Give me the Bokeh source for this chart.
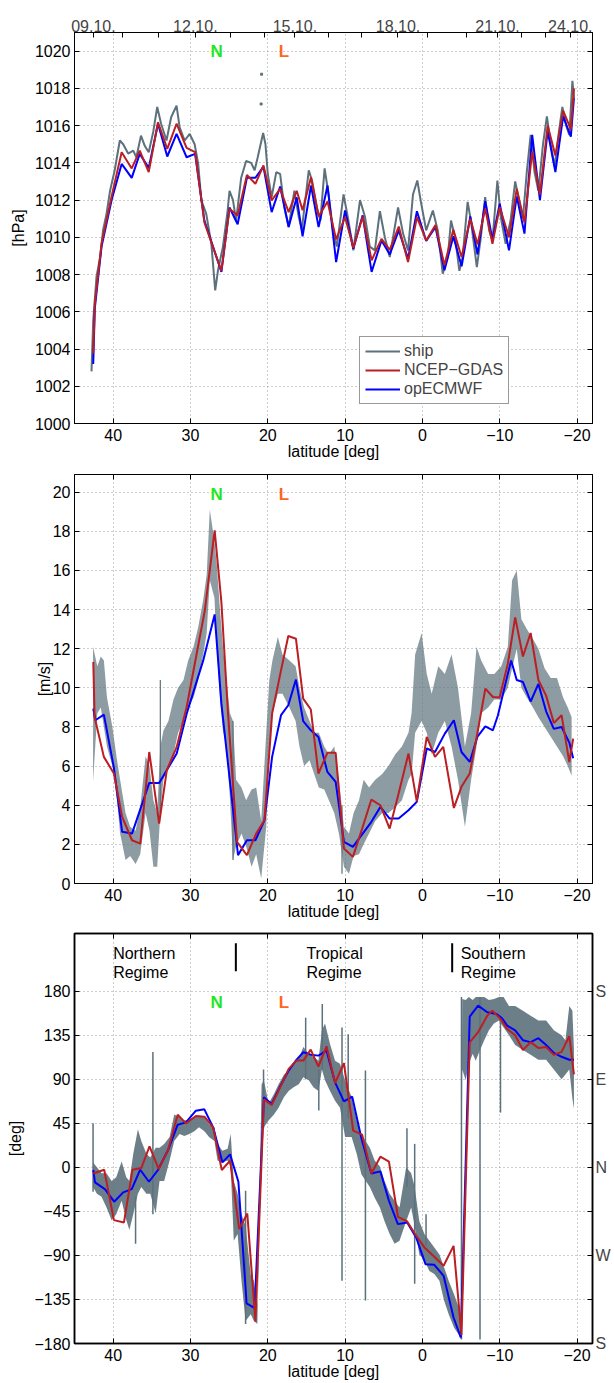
from bokeh.plotting import figure
from bokeh.models import (Range1d, LinearAxis, FixedTicker, Legend, LegendItem,
                          CustomJSTickFormatter)
from bokeh.layouts import column
from bokeh.core.properties import value
from bokeh.embed import file_html
from bokeh.resources import INLINE

FONT = "Liberation Sans"
GRAY = "#5c717b"
RED = "#bb1e23"
BLUE = "#0000ff"

# ---------------- top date axis (ship track: day -> latitude) ----------------
day_lat = [42.55, 38.82, 34.09, 29.37, 24.86, 20.48, 16.49, 12.18, 7.89, 3.16,
           -0.70, -5.64, -9.72, -12.85, -15.95, -19.12]
date_lat = [42.55, 29.37, 16.49, 3.16, -9.72, -19.12]
date_label = ["09.10.", "12.10.", "15.10.", "18.10.", "21.10.", "24.10."]

# ---------------- panel 1: pressure [hPa] ----------------
p_mod_lat = [42.58, 42.37, 41.5, 40.2, 38.9, 37.6, 36.56, 35.4, 34.2, 33.0, 31.8,
             30.5, 29.4, 28.2, 26.0, 24.95, 23.9, 22.7, 21.6, 20.56, 19.5, 18.4,
             17.3, 16.26, 15.5, 14.41, 13.43, 12.27, 11.16, 10.0, 8.93, 7.73,
             6.57, 5.29, 4.22, 3.06, 1.86, 0.71, -0.49, -1.69, -2.85, -4.0,
             -5.07, -6.19, -7.13, -8.12, -9.06, -10.0, -11.2, -12.2, -13.2,
             -14.2, -15.2, -16.2, -17.2, -18.2, -19.2, -19.6]
p_ncep = [1003.76, 1006.44, 1009.65, 1012.2, 1014.57, 1013.7, 1014.66, 1013.5,
          1016.18, 1014.75, 1016.1, 1014.8, 1014.57, 1010.8, 1008.2, 1011.53,
          1011.17, 1013.35, 1012.87, 1013.86, 1011.98, 1012.6, 1011.35, 1012.5,
          1011.45, 1013.23, 1011.12, 1011.92, 1009.89, 1011.08, 1009.44, 1011.12,
          1008.76, 1009.92, 1009.33, 1010.58, 1008.67, 1011.08, 1009.83, 1010.66,
          1008.5, 1010.4, 1008.94, 1011.0, 1009.62, 1011.53, 1009.65, 1011.62,
          1010.0, 1012.6, 1010.8, 1014.6, 1012.3, 1016.0, 1014.4, 1016.8,
          1015.8, 1018.0]
p_ecmwf = [1003.2, 1006.2, 1009.5, 1012.0, 1013.94, 1013.19, 1014.48, 1013.73,
           1016.1, 1014.34, 1015.55, 1014.3, 1014.48, 1010.9, 1008.14, 1011.6,
           1010.7, 1013.2, 1013.2, 1013.8, 1011.35, 1012.73, 1010.55, 1012.15,
           1010.05, 1012.78, 1010.55, 1012.78, 1008.67, 1011.44, 1009.39, 1011.18,
           1008.14, 1009.83, 1009.08, 1010.37, 1008.85, 1011.4, 1009.8, 1010.55,
           1008.23, 1010.05, 1008.44, 1011.12, 1009.08, 1011.94, 1009.87, 1011.8,
           1009.3, 1012.2, 1010.2, 1015.5, 1012.0, 1015.7, 1013.5, 1016.5,
           1015.4, 1017.5]
p_ship_lat = [42.8, 42.58, 42.15, 41.7, 41.3, 40.86, 40.4, 39.8, 39.14, 38.7,
              38.06, 37.4, 37.0, 36.4, 35.9, 35.4, 34.8, 34.3, 33.8, 33.1, 32.5,
              31.8, 31.4, 30.75, 30.1, 29.46, 29.0, 28.6, 27.96, 27.3, 26.8,
              26.45, 25.8, 25.2, 24.95, 24.5, 24.1, 23.44, 22.8, 22.15, 21.7,
              21.3, 20.6, 20.3, 20.0, 19.5, 18.9, 18.4, 17.86, 17.3, 16.56, 16.0,
              15.6, 14.7, 14.28, 13.64, 13.2, 12.65, 12.14, 11.5, 11.07, 10.2,
              9.57, 8.93, 8.07, 7.43, 6.8, 6.15, 5.5, 4.86, 4.22, 3.15, 2.5,
              1.86, 1.22, 0.66, 0.15, -0.49, -1.35, -1.99, -2.63, -3.28, -3.7,
              -4.22, -4.78, -5.2, -5.85, -6.27, -7.04, -7.56, -8.12, -8.63,
              -9.06, -9.7, -10.13, -10.77, -11.4, -12.0, -12.5, -13.0, -13.5,
              -14.0, -14.5, -15.0, -15.6, -16.1, -16.6, -17.1, -17.6, -18.1,
              -18.6, -19.0, -19.4, -19.6]
p_ship = [1002.8, 1005.5, 1007.9, 1008.9, 1010.4, 1011.26, 1012.5, 1013.6,
          1015.2, 1015.0, 1014.5, 1014.66, 1014.3, 1015.46, 1014.9, 1014.57,
          1015.7, 1017.0, 1016.1, 1015.2, 1016.45, 1017.07, 1015.9, 1015.2,
          1015.55, 1015.0, 1013.95, 1012.0, 1011.26, 1009.65, 1007.15, 1008.2,
          1009.5, 1011.4, 1012.5, 1012.0, 1010.9, 1013.2, 1014.1, 1014.0,
          1013.6, 1014.3, 1015.6, 1015.0, 1013.4, 1012.16, 1013.5, 1013.4,
          1011.6, 1010.55, 1012.5, 1011.1, 1010.4, 1013.6, 1013.05, 1011.6,
          1010.9, 1013.7, 1012.3, 1010.2, 1009.5, 1012.3, 1010.9, 1009.3,
          1012.0, 1011.1, 1009.5, 1009.3, 1011.4, 1010.0, 1008.94, 1011.6,
          1010.2, 1009.3, 1012.3, 1013.05, 1011.8, 1010.37, 1011.44, 1010.37,
          1008.05, 1008.94, 1010.9, 1010.0, 1008.2, 1008.94, 1011.9, 1010.9,
          1008.4, 1010.0, 1012.16, 1010.37, 1009.83, 1013.05, 1011.1, 1009.65,
          1010.9, 1013.0, 1012.0, 1011.0, 1013.5, 1015.5, 1013.5, 1012.5,
          1015.0, 1016.5, 1015.0, 1013.8, 1015.5, 1017.0, 1016.0, 1015.5,
          1018.4, 1017.5]
p_stray_lat = [20.86, 20.8]
p_stray = [1017.16, 1018.76]

# ---------------- panel 2: wind speed [m/s] ----------------
w_ncep_lat = [42.57, 42.4, 41.2, 39.9, 38.84, 37.56, 36.49, 35.33, 34.05, 33.06,
              31.78, 30.49, 29.2, 28.14, 26.87, 26.0, 25.14, 23.98, 22.7, 21.5,
              20.43, 19.44, 18.29, 17.35, 16.36, 15.42, 14.43, 13.45, 12.29,
              11.22, 10.15, 8.99, 7.79, 6.6, 5.44, 4.24, 3.08, 1.8, 0.73, -0.56,
              -1.63, -2.7, -4.07, -5.05, -6.12, -7.1, -8.14, -9.12, -9.98,
              -11.05, -12.0, -13.0, -14.0, -15.0, -16.0, -17.0, -18.0, -19.0,
              -19.5]
w_ncep = [11.32, 8.51, 6.47, 5.62, 3.4, 2.21, 2.04, 6.72, 3.06, 5.79, 6.98, 9.02,
          11.74, 13.96, 18.04, 14.38, 8.68, 2.13, 1.45, 2.55, 3.23, 8.68, 10.89,
          12.65, 12.51, 9.45, 8.89, 5.62, 6.68, 6.68, 1.79, 1.36, 2.81, 4.29,
          4.0, 2.81, 4.6, 6.64, 4.2, 7.49, 6.47, 6.98, 3.86, 4.94, 5.62, 7.66,
          9.96, 9.53, 9.5, 11.23, 13.6, 11.6, 12.8, 10.4, 9.6, 8.2, 8.6, 6.2,
          7.4]
w_ecmwf_lat = [42.57, 42.3, 41.2, 39.9, 38.84, 37.56, 35.33, 34.05, 31.78, 30.49,
               28.35, 26.87, 26.0, 23.85, 22.7, 21.6, 20.43, 19.44, 18.29, 17.35,
               16.36, 15.42, 14.43, 13.45, 12.29, 11.22, 10.15, 8.99, 6.6, 5.44,
               4.24, 3.08, 1.8, 0.73, -0.56, -1.63, -2.9, -4.07, -5.05, -6.12,
               -7.1, -8.14, -9.12, -9.77, -10.84, -11.48, -12.2, -13.0, -14.0,
               -15.0, -16.0, -17.0, -18.0, -19.0, -19.5]
w_ecmwf = [8.94, 8.34, 8.63, 5.9, 2.64, 2.55, 5.14, 5.14, 6.64, 8.68, 11.4, 13.75,
           9.19, 1.45, 2.21, 2.21, 3.23, 6.47, 8.6, 9.11, 10.42, 8.3, 7.83, 7.49,
           5.7, 5.19, 2.13, 1.87, 3.15, 3.91, 3.32, 3.32, 3.74, 4.17, 6.9, 6.72,
           7.66, 8.34, 6.72, 6.21, 7.49, 8.03, 7.83, 8.6, 10.38, 11.4, 10.4,
           10.3, 9.3, 10.2, 8.8, 7.9, 8.0, 7.2, 6.4]
# ship wind: envelope of the scattered 10-min samples
w_ship_lat = [42.6, 42.05, 41.6, 41.2, 40.8, 40.1, 39.5, 39.1, 38.4, 37.8, 37.1,
              36.5, 35.8, 35.3, 34.8, 34.3, 33.9, 33.5, 32.85, 32.2, 31.6, 30.9,
              30.3, 29.6, 29.0, 28.35, 27.9, 27.5, 26.9, 26.6, 26.2, 25.8, 25.35,
              24.9, 24.5, 24.1, 23.4, 22.8, 22.1, 21.5, 20.85, 20.2, 19.8, 19.4,
              18.7, 18.1, 17.2, 16.4, 15.9, 15.3, 14.6, 14.0, 13.4, 12.7, 12.1,
              11.4, 10.8, 10.15, 9.5, 8.9, 8.2, 7.6, 6.9, 6.1, 5.2, 4.4, 3.5,
              2.65, 1.8, 1.4, 0.94, 0.1, -0.56, -1.2, -2.05, -2.9, -3.77, -4.6,
              -5.5, -6.3, -7.0, -7.6, -8.5, -9.3, -10.2, -11.05, -11.6, -12.2,
              -12.8, -13.5, -14.3, -15.0, -15.8, -16.6, -17.4, -18.2, -18.8,
              -19.3]
w_ship_lo = [5.2, 8.7, 9.0, 8.0, 7.0, 6.0, 4.25, 2.55, 1.2, 1.4, 1.0, 1.5, 3.6,
             2.7, 0.85, 0.85, 3.6, 5.3, 6.0, 6.6, 7.7, 8.3, 9.0, 9.5, 10.4, 11.7,
             12.8, 15.5, 14.6, 12.1, 9.5, 7.8, 7.0, 4.4, 1.2, 1.9, 2.55, 1.9,
             0.85, 1.5, 0.25, 2.9, 7.0, 8.7, 9.7, 9.7, 9.0, 8.3, 7.0, 6.0, 6.3,
             5.6, 4.9, 4.8, 4.25, 3.6, 2.55, 0.85, 0.5, 1.4, 1.5, 2.0, 2.55, 3.2,
             3.6, 3.6, 3.9, 4.25, 5.3, 5.6, 7.7, 8.3, 7.7, 6.6, 7.7, 8.3, 7.0,
             5.3, 2.9, 5.3, 7.0, 8.7, 9.0, 9.4, 9.4, 10.0, 11.0, 12.0, 10.0, 9.5,
             9.0, 8.5, 8.0, 7.5, 7.0, 6.5, 6.0, 5.5]
w_ship_hi = [12.1, 11.1, 11.6, 11.4, 9.5, 8.0, 6.3, 5.3, 3.6, 2.9, 2.7, 3.9, 6.5,
             6.0, 4.25, 3.6, 7.0, 7.8, 8.3, 9.4, 10.0, 10.4, 11.4, 12.1, 13.1,
             14.5, 15.8, 19.1, 17.5, 16.3, 14.1, 12.1, 10.4, 8.7, 8.3, 5.3, 4.9,
             4.25, 4.8, 4.9, 3.2, 7.7, 10.4, 11.4, 12.6, 11.7, 11.4, 11.1, 10.0,
             9.0, 8.3, 7.7, 7.7, 7.0, 6.6, 7.0, 5.3, 2.9, 2.55, 3.6, 4.25, 5.3,
             4.9, 5.3, 5.6, 6.0, 6.6, 7.0, 7.7, 8.7, 11.7, 12.8, 10.7, 9.7, 11.1,
             10.7, 11.7, 10.0, 7.0, 8.7, 12.1, 11.4, 10.7, 10.7, 11.1, 12.1, 15.5,
             16.0, 13.5, 13.0, 12.5, 12.0, 11.0, 10.5, 10.5, 9.5, 9.0, 8.5]
w_spike_lat = [33.9, 24.5, 10.4]
w_spike_lo = [3.6, 1.2, 0.5]
w_spike_hi = [10.4, 8.3, 4.0]

# ---------------- panel 3: wind direction [deg] ----------------
d_ncep_lat = [42.57, 41.16, 39.9, 38.6, 37.5, 36.36, 35.3, 34.1, 32.9, 31.65,
              30.58, 29.3, 28.2, 27.07, 25.95, 24.88, 23.7, 22.65, 21.6, 20.5,
              19.5, 18.46, 17.3, 16.3, 15.4, 14.45, 13.45, 12.4, 11.3, 10.15,
              8.95, 7.8, 6.6, 5.44, 4.33, 3.17, 1.97, 0.81, -0.26, -1.54, -2.74,
              -4.03, -5.05, -6.12, -7.2, -8.4, -9.04, -10.1, -10.96, -12.0,
              -13.0, -14.0, -15.0, -16.0, -17.0, -18.0, -19.0, -19.6]
d_ncep = [-6.2, -2.4, -53.9, -56.3, -2.4, -0.7, 21.5, -1.7, 17.7, 53.8, 45.0,
          52.5, 51.8, 40.9, -2.7, 6.8, -63.1, -47.1, -157.5, 69.5, 63.7, 80.8,
          100.6, 109.1, 109.1, 120.3, 102.9, 123.7, 86.2, 106.4, 37.5, 33.4,
          -6.2, 10.9, 5.8, -50.5, -55.3, -69.9, -81.8, -91.4, -100.6, -80.2,
          -171.2, 127.8, 138.1, 155.1, 160.2, 151.7, 141.5, 135.0, 120.0, 128.0,
          122.0, 123.0, 115.0, 118.0, 134.0, 95.0]
d_ecmwf_lat = [42.57, 42.35, 41.07, 39.87, 38.7, 37.6, 36.5, 35.37, 34.2, 32.9,
               31.65, 30.58, 29.3, 28.2, 27.07, 25.87, 24.88, 23.8, 22.74, 21.7,
               20.5, 19.5, 18.46, 17.3, 16.3, 15.4, 14.45, 13.45, 12.4, 11.3,
               10.15, 9.08, 7.87, 6.6, 5.44, 4.33, 3.17, 1.97, 0.81, -0.4, -1.54,
               -2.74, -4.03, -4.97, -6.12, -7.2, -8.4, -9.6, -10.3, -10.96,
               -12.0, -13.0, -14.0, -15.0, -16.0, -17.0, -18.0, -19.0, -19.6]
d_ecmwf = [-2.7, -15.4, -22.2, -35.1, -25.6, -22.2, -2.4, -14.7, -2.7, 17.7,
           43.6, 46.0, 57.9, 59.3, 40.9, 5.1, 13.3, -14.7, -139.1, -143.9, 71.6,
           64.8, 81.8, 98.9, 109.8, 117.6, 115.2, 114.2, 119.3, 86.9, 67.5,
           72.3, 29.0, -6.2, -4.1, -34.1, -58.0, -56.3, -71.6, -98.9, -99.6,
           -110.8, -153.4, -173.9, 154.1, 165.3, 158.5, 156.8, 152.4, 144.9,
           140.0, 130.0, 128.0, 132.0, 125.0, 117.0, 113.0, 110.0, 110.0]
d_ship_lat = [42.6, 42.1, 41.5, 40.86, 40.2, 39.6, 38.9, 38.3, 37.9, 37.4, 36.8,
              36.36, 35.7, 35.2, 34.5, 34.0, 33.4, 32.7, 32.1, 31.4, 30.8, 30.15,
              29.5, 28.9, 28.2, 27.6, 26.9, 26.5, 25.87, 25.2, 24.8, 24.4, 23.9,
              23.4, 22.87, 22.2, 21.8, 21.35, 20.8, 20.5, 19.9, 19.2, 18.6,
              17.9, 17.3, 16.66, 16.0, 15.4, 14.7, 14.1, 13.45, 13.0, 12.6,
              11.95, 11.3, 10.66, 10.0, 9.16, 8.5, 7.9, 6.8, 6.17, 5.5, 4.9,
              4.24, 3.6, 2.96, 2.1, 1.45, 1.0, 0.4, -0.26, -0.9, -1.54, -2.2,
              -2.8, -3.4, -4.1, -4.7, -4.95, -5.15, -5.6, -6.0, -6.5, -6.9,
              -7.45, -8.0, -8.6, -9.25, -9.9, -10.5, -11.2, -12.0, -13.0, -14.0,
              -15.0, -16.0, -17.0, -18.0, -18.5, -19.0, -19.4, -19.6]
d_ship_lo = [-20, -27, -30, -41, -54, -48, -34, -54, -64, -48, -27, -20, -27,
             -27, -47, -14, -14, 7, 27, 34, 32, 34, 37, 41, 37, 31, 27, 7, 5, 7,
             1, -75, -68, -116, -157, -150, -157, -160, 40, 41, 48, 54, 61, 72,
             78, 82, 85, 92, 89, 82, 78, 100, 89, 78, 68, 61, 31, 31, 14, -7,
             -20, -31, -41, -55, -68, -78, -75, -55, -41, -60, -89, -95, -106,
             -109, -116, -136, -150, -164, -171, -176, 100, 89, 106, 116, 109,
             120, 130, 140, 147, 150, 143, 135, 125, 120, 115, 110, 110, 100, 90,
             95, 100, 70, 60]
d_ship_hi = [5, 0, -6, -6, -14, -10, 6, -10, -14, 14, 39, 27, 14, 10, 20, 20, 24,
             31, 54, 51, 48, 49, 51, 53, 51, 44, 41, 24, 17, 19, 34, -14, -27,
             -48, -60, -110, -116, -140, 85, 89, 65, 75, 85, 95, 99, 106, 111,
             123, 116, 113, 109, 140, 147, 126, 109, 106, 89, 72, 48, 34, 20, 7,
             1, -14, -27, -34, -41, 0, -6, -20, -55, -68, -75, -82, -89, -102,
             -116, -130, -143, -150, 172, 171, 174, 171, 174, 174, 174, 171, 172,
             174, 174, 165, 165, 160, 155, 150, 150, 140, 135, 130, 165, 160, 120]
d_spike_lat = [42.6, 37.1, 34.86, 22.87, 20.55, 15.1, 13.4, 12.95, 10.4, 9.6,
               7.37, 2.0, 1.0, -0.47, -5.05, -7.45, -10.1]
d_spike_lo = [-25, -78, -48, -160, 40, 90, 58, 100, -116, 50, -136, -20, -119,
              -80, -176, -176, 56]
d_spike_hi = [45, -30, 118, -24, 100, 153, 100, 167, 143, 136, 99, 40, 24, -48,
              174, 174, 150]

# annotations
mark_lat = [26.6, 17.9]
mark_text = ["N", "L"]
mark_color = ["#1fe81f", "#ff6622"]
regime_lat = [40.0, 40.0, 15.0, 15.0, -4.95, -4.95]
regime_y = [218.9, 199.4, 218.9, 199.4, 218.9, 199.4]
regime_text = ["Northern", "Regime", "Tropical", "Regime", "Southern", "Regime"]
bar_lat = [24.13, -3.85]
bar_y0 = [200.4, 199.4]
bar_y1 = [229.1, 229.1]

lat_ticks = [40, 30, 20, 10, 0, -10, -20]
MINUS_FMT = CustomJSTickFormatter(code="""
    return tick < 0 ? "\\u2212" + String(Math.abs(tick)) : String(tick);
""")


def make_fig(H, ylim, mbl, mbt, mbb, mbr, yticks, ylabel, bw=1.0,
             tick_standoff=5, label_standoff=-1, ylab_standoff=2):
    p = figure(width=614, height=H, x_range=Range1d(45, -22),
               y_range=Range1d(*ylim), toolbar_location=None,
               output_backend="svg", min_border_left=mbl, min_border_right=mbr,
               min_border_top=mbt, min_border_bottom=mbb)
    p.outline_line_color = "black"
    p.outline_line_width = bw
    p.background_fill_color = "white"
    for ax in (p.xaxis[0], p.yaxis[0]):
        ax.major_tick_in = 5
        ax.major_tick_out = 0
        ax.minor_tick_line_color = None
        ax.axis_line_color = "black"
        ax.axis_line_width = bw
        ax.major_tick_line_color = "black"
        ax.major_label_text_font = FONT
        ax.major_label_text_font_size = "16px"
        ax.major_label_text_color = "black"
        ax.axis_label_text_font = FONT
        ax.axis_label_text_font_size = "16px"
        ax.axis_label_text_font_style = "normal"
        ax.axis_label_text_color = "black"
        ax.formatter = MINUS_FMT
    p.xaxis[0].ticker = FixedTicker(ticks=lat_ticks)
    p.xaxis[0].axis_label = "latitude [deg]"
    p.xaxis[0].major_label_standoff = tick_standoff
    p.xaxis[0].axis_label_standoff = label_standoff
    p.yaxis[0].ticker = FixedTicker(ticks=yticks)
    p.yaxis[0].axis_label = ylabel
    p.yaxis[0].major_label_standoff = 4
    p.yaxis[0].axis_label_standoff = ylab_standoff
    p.xgrid.ticker = FixedTicker(ticks=lat_ticks)
    p.ygrid.ticker = FixedTicker(ticks=yticks)
    for g in (p.xgrid, p.ygrid):
        g.grid_line_color = "#9a9a9a"
        g.grid_line_dash = "1 3"
        g.grid_line_width = 1
    return p


def plain_axis(ticks, bw=1.0):
    # tick marks only (no labels drawn)
    return LinearAxis(ticker=FixedTicker(ticks=ticks), major_tick_in=5,
                      major_tick_out=0, minor_tick_line_color=None,
                      major_label_text_font_size="1px",
                      major_label_text_color=None, major_label_standoff=0,
                      formatter=CustomJSTickFormatter(code='return "";'),
                      axis_line_color="black", axis_line_width=bw)


# ---------------- figure 1 ----------------
p1_yt = list(range(1000, 1021, 2))
p1 = make_fig(463, (1000, 1021), 72, 32, 40, 22, p1_yt, "[hPa]", ylab_standoff=5)
p1.add_layout(plain_axis(p1_yt), "right")
p1.add_layout(plain_axis(day_lat), "above")
dates = LinearAxis(ticker=FixedTicker(ticks=date_lat), major_tick_in=0,
                   major_tick_out=0, minor_tick_line_color=None,
                   major_tick_line_color=None, axis_line_color=None,
                   major_label_text_font=FONT, major_label_text_font_size="16px",
                   major_label_standoff=1,
                   formatter=CustomJSTickFormatter(args=dict(t=date_lat, l=date_label), code="""
                       for (let i = 0; i < t.length; i++) {
                           if (Math.abs(t[i] - tick) < 1e-6) return l[i];
                       }
                       return String(tick);
                   """))
p1.add_layout(dates, "above")
r_ship = p1.line(p_ship_lat, p_ship, line_color=GRAY, line_width=2)
p1.scatter(p_stray_lat, p_stray, marker="square", size=2, color=GRAY)
r_ec = p1.line(p_mod_lat, p_ecmwf, line_color=BLUE, line_width=2)
r_nc = p1.line(p_mod_lat, p_ncep, line_color=RED, line_width=2)
p1.text(x=mark_lat, y=[1020.0, 1020.0], text=mark_text, text_color=mark_color,
        text_font=value(FONT), text_font_size="17px", text_font_style="bold",
        text_align="center", text_baseline="middle")
leg = Legend(items=[LegendItem(label="ship", renderers=[r_ship]),
                    LegendItem(label="NCEP\u2212GDAS", renderers=[r_nc]),
                    LegendItem(label="opECMWF", renderers=[r_ec])],
             location=(285, 19), padding=5, spacing=1, margin=0,
             glyph_width=35, glyph_height=18, label_height=18, label_standoff=4,
             label_text_font=FONT, label_text_font_size="16px",
             border_line_color="#333333", border_line_width=1,
             background_fill_alpha=1.0)
p1.add_layout(leg)

# ---------------- figure 2 ----------------
p2_yt = list(range(0, 21, 2))
p2 = make_fig(460, (0, 20.9), 70, 11, 40, 22, p2_yt, "[m/s]", ylab_standoff=-3)
p2.add_layout(plain_axis(p2_yt), "right")
p2.add_layout(plain_axis(lat_ticks), "above")
p2.varea(x=w_ship_lat, y1=w_ship_lo, y2=w_ship_hi, fill_color=GRAY, fill_alpha=0.7)
p2.segment(x0=w_spike_lat, y0=w_spike_lo, x1=w_spike_lat, y1=w_spike_hi,
           line_color=GRAY, line_width=1.2)
p2.line(w_ecmwf_lat, w_ecmwf, line_color=BLUE, line_width=2)
p2.line(w_ncep_lat, w_ncep, line_color=RED, line_width=2)
p2.text(x=mark_lat, y=[19.9, 19.9], text=mark_text, text_color=mark_color,
        text_font=value(FONT), text_font_size="17px", text_font_style="bold",
        text_align="center", text_baseline="middle")

# ---------------- figure 3 ----------------
dir_ticks = list(range(-180, 181, 45))
p3 = make_fig(460, (-180, 239), 74, 10, 40, 18, dir_ticks, "[deg]", bw=1.5,
              tick_standoff=5, label_standoff=-1, ylab_standoff=7)
ra = LinearAxis(ticker=FixedTicker(ticks=dir_ticks), major_tick_in=5,
                major_tick_out=0, minor_tick_line_color=None,
                axis_line_color="black", axis_line_width=1.5,
                major_label_text_font=FONT, major_label_text_font_size="16px",
                major_label_standoff=3,
                major_label_overrides={180: "S", 135: " ", 90: "E", 45: " ",
                                       0: "N", -45: " ", -90: "W", -135: " ",
                                       -180: "S"})
p3.add_layout(ra, "right")
p3.add_layout(plain_axis(lat_ticks, bw=1.5), "above")
p3.varea(x=d_ship_lat, y1=d_ship_lo, y2=d_ship_hi, fill_color=GRAY, fill_alpha=0.9)
p3.segment(x0=d_spike_lat, y0=d_spike_lo, x1=d_spike_lat, y1=d_spike_hi,
           line_color=GRAY, line_width=1.5)
p3.line(d_ecmwf_lat, d_ecmwf, line_color=BLUE, line_width=2)
p3.line(d_ncep_lat, d_ncep, line_color=RED, line_width=2)
p3.text(x=mark_lat, y=[168.75, 168.75], text=mark_text, text_color=mark_color,
        text_font=value(FONT), text_font_size="17px", text_font_style="bold",
        text_align="center", text_baseline="middle")
p3.text(x=regime_lat, y=regime_y, text=regime_text, text_color="black",
        text_font=value(FONT), text_font_size="16px", text_align="left",
        text_baseline="middle")
p3.segment(x0=bar_lat, y0=bar_y0, x1=bar_lat, y1=bar_y1, line_color="black",
           line_width=2)

layout = column(p1, p2, p3, spacing=0)
open("out.html", "w").write(file_html(layout, INLINE))
